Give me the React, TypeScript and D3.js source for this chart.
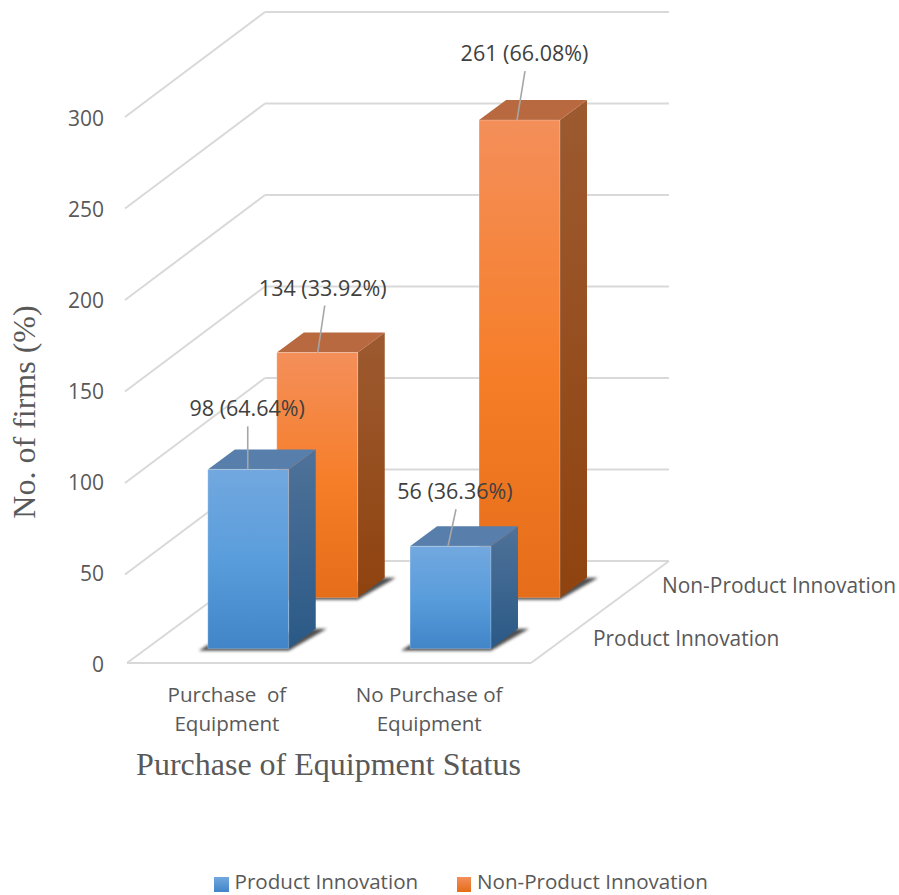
import React from "react";
import * as d3 from "d3";

// Chart values
const categories = ["Purchase of Equipment", "No Purchase of Equipment"];
const categoryLines = [["Purchase  of", "Equipment"], ["No Purchase of", "Equipment"]];
const seriesNames = ["Product Innovation", "Non-Product Innovation"];
const productValues = [98, 56];
const nonProductValues = [134, 261];
const productShares = ["64.64%", "36.36%"];
const nonProductShares = ["33.92%", "66.08%"];
const yTicks = [0, 50, 100, 150, 200, 250, 300];

// Layout of the oblique projection
const W = 899;
const H = 895;
const floorFrontY = 663;
const floorLeftX = 127;
const floorRightX = 531;
const depthDX = 138;
const depthDY = 102;
const sideWallDrop = 3;
const sans = "'Open Sans', 'Noto Sans', sans-serif";
const serif = "'Liberation Serif', serif";

const xBand = d3.scaleBand<string>().domain(categories).range([127.8, 532.3]).paddingInner(0.6).paddingOuter(0.3);
const depthBand = d3.scaleBand<string>().domain(seriesNames).range([-0.012, 0.988]).paddingInner(0.608).paddingOuter(0.304);
const yLen = d3.scaleLinear().domain([0, 300]).range([0, 549]);
const tickBaseline = d3.scaleLinear().domain([0, 300]).range([672, 126]);

// Maps (floor x, value, depth 0..1) to screen coordinates
const project = (x: number, v: number, d: number): [number, number] => [
  x + d * depthDX,
  floorFrontY - d * depthDY - yLen(v),
];
const poly = (pts: [number, number][]) => (d3.line()(pts) ?? "") + "Z";

type Bar = {
  cat: string;
  series: string;
  value: number;
  share: string;
  tone: string;
  labelDx: number;
  labelDy: number;
  leadTop: number;
  leadTip: number;
};

// Label and leader offsets relative to the centre of the bar's front top edge
const bars: Bar[] = [
  { cat: categories[0], series: seriesNames[1], value: nonProductValues[0], share: nonProductShares[0], tone: "orange", labelDx: 5.5, labelDy: -57, leadTop: 7.5, leadTip: 0.5 },
  { cat: categories[1], series: seriesNames[1], value: nonProductValues[1], share: nonProductShares[1], tone: "orange", labelDx: 5, labelDy: -59, leadTop: 5.5, leadTip: -2.5 },
  { cat: categories[0], series: seriesNames[0], value: productValues[0], share: productShares[0], tone: "blue", labelDx: -1, labelDy: -53, leadTop: -0.5, leadTip: -0.5 },
  { cat: categories[1], series: seriesNames[0], value: productValues[1], share: productShares[1], tone: "blue", labelDx: 4.5, labelDy: -47, leadTop: 5.5, leadTip: -2.5 },
];

function Bar3D({ b }: { b: Bar }) {
  const x0 = xBand(b.cat)!;
  const x1 = x0 + xBand.bandwidth();
  const d0 = depthBand(b.series)!;
  const d1 = d0 + depthBand.bandwidth();
  const fbl = project(x0, 0, d0);
  const fbr = project(x1, 0, d0);
  const ftl = project(x0, b.value, d0);
  const ftr = project(x1, b.value, d0);
  const bbr = project(x1, 0, d1);
  const btr = project(x1, b.value, d1);
  const btl = project(x0, b.value, d1);
  // Contact shadow on the floor, skewed to the right of the bar
  const shadow: [number, number][] = [
    [fbl[0] - 9, fbl[1] + 2],
    [fbr[0], fbr[1] + 2],
    [bbr[0] + 11, bbr[1]],
    [bbr[0] - 4, bbr[1]],
    [fbl[0], fbl[1] - 4],
  ];
  return (
    <g>
      <path d={poly(shadow)} fill="#333" opacity={0.85} filter="url(#soft)" />
      <path d={poly([ftr, btr, bbr, fbr])} fill={`url(#${b.tone}Side)`} />
      <path d={poly([ftl, btl, btr, ftr])} fill={b.tone === "blue" ? "#587fab" : "#b9693f"} />
      <path d={poly([fbl, ftl, ftr, fbr])} fill={`url(#${b.tone}Front)`} stroke="#fff" strokeOpacity={0.25} strokeWidth={1} />
    </g>
  );
}

function DataLabel({ b }: { b: Bar }) {
  const cx = xBand(b.cat)! + xBand.bandwidth() / 2;
  const [tx, ty] = project(cx, b.value, depthBand(b.series)!);
  const ly = ty + b.labelDy;
  return (
    <g>
      <line x1={tx + b.leadTop} y1={ly + 10} x2={tx + b.leadTip} y2={ty} stroke="#a6a6a6" strokeWidth={1.6} />
      <text x={tx + b.labelDx} y={ly} textAnchor="middle" fontFamily={sans} fontSize={21.5} fill="#404040">
        {`${b.value} (${b.share})`}
      </text>
    </g>
  );
}

export default function App() {
  const gridStroke = "#d9d9d9";
  const wallRightX = floorLeftX + depthDX + (floorRightX - floorLeftX);
  return (
    <svg width={W} height={H} viewBox={`0 0 ${W} ${H}`} style={{ position: "absolute", left: 0, top: 0, display: "block", background: "#fff" }}>
      <defs>
        <linearGradient id="blueFront" x1="0" y1="0" x2="0" y2="1">
          <stop offset="0" stopColor="#72a8df" />
          <stop offset="0.5" stopColor="#5a9ddc" />
          <stop offset="1" stopColor="#4285c8" />
        </linearGradient>
        <linearGradient id="blueSide" x1="0" y1="0" x2="0" y2="1">
          <stop offset="0" stopColor="#4f7299" />
          <stop offset="1" stopColor="#2a5986" />
        </linearGradient>
        <linearGradient id="orangeFront" x1="0" y1="0" x2="0" y2="1">
          <stop offset="0" stopColor="#f48f5a" />
          <stop offset="0.55" stopColor="#f67d27" />
          <stop offset="1" stopColor="#e66d19" />
        </linearGradient>
        <linearGradient id="orangeSide" x1="0" y1="0" x2="0" y2="1">
          <stop offset="0" stopColor="#9d5a30" />
          <stop offset="1" stopColor="#8f430f" />
        </linearGradient>
        <linearGradient id="legendBlue" x1="0" y1="0" x2="0" y2="1">
          <stop offset="0" stopColor="#72a8df" />
          <stop offset="1" stopColor="#4285c8" />
        </linearGradient>
        <linearGradient id="legendOrange" x1="0" y1="0" x2="0" y2="1">
          <stop offset="0" stopColor="#f48f5a" />
          <stop offset="1" stopColor="#e66d19" />
        </linearGradient>
        <filter id="soft" x="-20%" y="-50%" width="140%" height="200%">
          <feGaussianBlur stdDeviation="1.6" />
        </filter>
      </defs>

      {/* Back wall, side wall and floor */}
      <g stroke={gridStroke} strokeWidth={2} fill="none">
        {yTicks.map((t) => {
          const a = project(floorLeftX, t, 0);
          const b = project(floorLeftX, t, 1);
          const drop = t === 0 ? 0 : sideWallDrop;
          return (
            <g key={t}>
              <line x1={a[0] - (drop ? 2 : 0)} y1={a[1] + drop} x2={b[0]} y2={b[1]} />
              <line x1={b[0]} y1={b[1]} x2={wallRightX} y2={b[1]} />
            </g>
          );
        })}
        <line x1={floorLeftX} y1={floorFrontY} x2={floorRightX} y2={floorFrontY} />
        <line x1={floorRightX} y1={floorFrontY} x2={wallRightX} y2={floorFrontY - depthDY} />
      </g>

      {bars.map((b) => (
        <Bar3D key={b.cat + b.series} b={b} />
      ))}
      {bars.map((b) => (
        <DataLabel key={b.cat + b.series} b={b} />
      ))}

      {/* Value axis */}
      <g fontFamily={sans} fontSize={21} fill="#595959" textAnchor="end">
        {yTicks.map((t) => (
          <text key={t} x={104} y={tickBaseline(t)}>
            {t}
          </text>
        ))}
      </g>

      {/* Category labels */}
      <g fontFamily={sans} fontSize={20.6} fill="#595959" textAnchor="middle">
        {categories.map((c, i) => {
          const cx = xBand(c)! + xBand.bandwidth() / 2 - 2;
          return categoryLines[i].map((line, j) => (
            <text key={line} x={cx} y={702 + j * 29} xmlSpace="preserve">
              {line}
            </text>
          ));
        })}
      </g>

      {/* Depth axis labels */}
      <g fontFamily={sans} fontSize={20.9} fill="#595959">
        <text x={593} y={646}>{seriesNames[0]}</text>
        <text x={662} y={593}>{seriesNames[1]}</text>
      </g>

      {/* Axis titles */}
      <text x={328.5} y={775} textAnchor="middle" fontFamily={serif} fontSize={32} fill="#595959">
        Purchase of Equipment Status
      </text>
      <text transform="translate(35,412) rotate(-90)" textAnchor="middle" fontFamily={serif} fontSize={32} fill="#595959">
        No. of firms (%)
      </text>

      {/* Legend */}
      <g fontFamily={sans} fontSize={20.6} fill="#595959">
        <rect x={214} y={877} width={15} height={15} fill="url(#legendBlue)" />
        <text x={234.5} y={888.8}>{seriesNames[0]}</text>
        <rect x={457} y={877} width={14} height={15} fill="url(#legendOrange)" />
        <text x={477} y={888.8}>{seriesNames[1]}</text>
      </g>
    </svg>
  );
}
